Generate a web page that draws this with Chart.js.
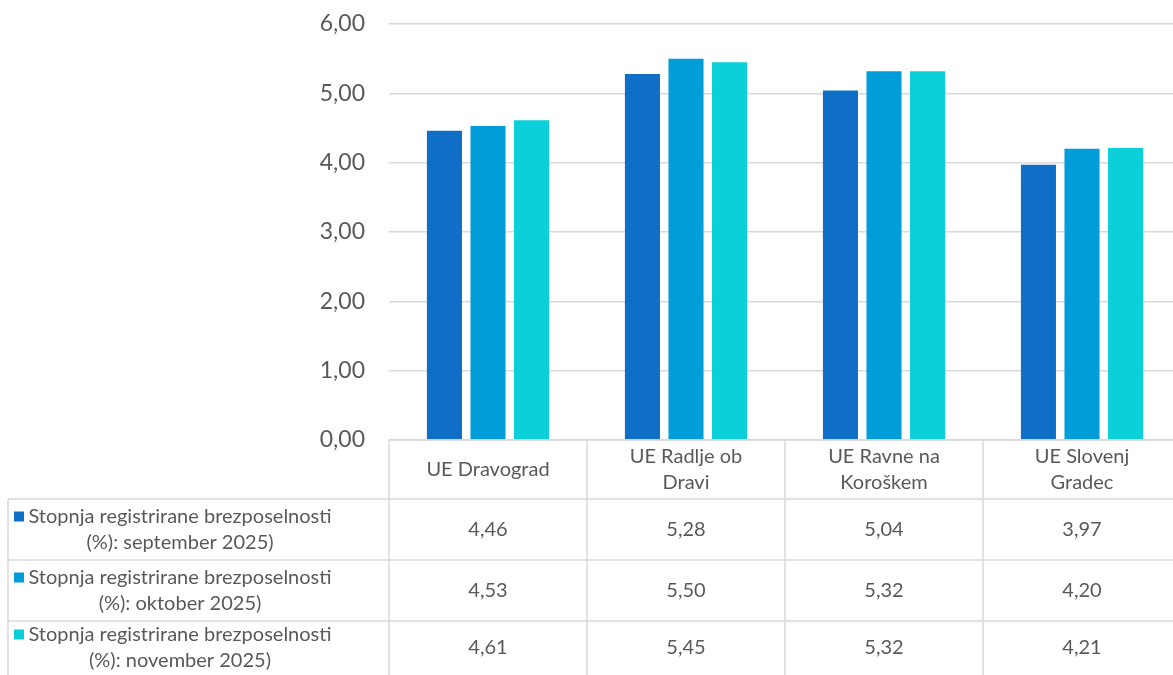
<!DOCTYPE html>
<html>
<head>
<meta charset="utf-8">
<script src="https://cdn.jsdelivr.net/npm/chart.js@4.4.0/dist/chart.umd.min.js"></script>
<style>
  html, body { margin: 0; padding: 0; background: #fff; overflow: hidden; }
  #wrap { width: 1173px; height: 675px; overflow: hidden; }
</style>
</head>
<body>
<div id="wrap"><canvas id="c" width="1182" height="675"></canvas></div>
<script>
// data
const categories = [['UE Dravograd'], ['UE Radlje ob', 'Dravi'], ['UE Ravne na', 'Koroškem'], ['UE Slovenj', 'Gradec']];
const september = [4.46, 5.28, 5.04, 3.97];
const oktober = [4.53, 5.50, 5.32, 4.20];
const november = [4.61, 5.45, 5.32, 4.21];
const seriesNames = [
  ['Stopnja registrirane brezposelnosti', '(%): september 2025)'],
  ['Stopnja registrirane brezposelnosti', '(%): oktober 2025)'],
  ['Stopnja registrirane brezposelnosti', '(%): november 2025)']
];
const colors = ['#0F6FC6', '#009DD9', '#0BD0D9'];

const FONT = 'Lato, "DejaVu Sans", sans-serif';
const TXT = '#595959';
const LINE = '#D9D9D9';

function fmt(v) { return v.toFixed(2).replace('.', ','); }

// draws the data table under the plot
const dataTable = {
  id: 'dataTable',
  afterDraw(chart) {
    const ctx = chart.ctx;
    const x = chart.scales.x;
    const area = chart.chartArea;
    const half = (area.right - area.left) / categories.length / 2;
    const top = area.bottom;
    const rows = [top, 499, 560, 621, 682];
    const left = 8;

    ctx.save();
    ctx.strokeStyle = LINE;
    ctx.lineWidth = 1.5;
    ctx.beginPath();
    ctx.moveTo(area.left, rows[0]); ctx.lineTo(area.right, rows[0]);
    for (let r = 1; r < rows.length; r++) {
      ctx.moveTo(left, rows[r]); ctx.lineTo(area.right, rows[r]);
    }
    ctx.moveTo(left, rows[1]); ctx.lineTo(left, rows[4]);
    for (let i = 0; i <= categories.length; i++) {
      const bx = (i < categories.length ? x.getPixelForValue(i) - half : x.getPixelForValue(i - 1) + half);
      ctx.moveTo(bx, rows[0]); ctx.lineTo(bx, rows[4]);
    }
    ctx.stroke();

    ctx.fillStyle = TXT;
    ctx.font = '20px ' + FONT;
    ctx.textAlign = 'center';
    ctx.textBaseline = 'middle';
    const lh = 26;
    // header
    categories.forEach((lines, i) => {
      const cx = x.getPixelForValue(i);
      const cy = (rows[0] + rows[1]) / 2;
      lines.forEach((l, k) => ctx.fillText(l, cx, cy + (k - (lines.length - 1) / 2) * lh));
    });
    // rows
    const series = [september, oktober, november];
    series.forEach((vals, r) => {
      const cy = (rows[r + 1] + rows[r + 2]) / 2 + (r === 2 ? -4 : 0);
      vals.forEach((v, i) => {
        ctx.fillStyle = TXT;
        ctx.fillText(fmt(v), x.getPixelForValue(i), cy);
      });
      const names = seriesNames[r];
      ctx.fillStyle = colors[r];
      ctx.fillRect(14, cy - 13 - 5, 10, 10);
      ctx.fillStyle = TXT;
      ctx.fillText(names[0], 180, cy - 13);
      ctx.fillText(names[1], 180, cy + 13);
    });
    ctx.restore();
  }
};

new Chart(document.getElementById('c'), {
  type: 'bar',
  data: {
    labels: categories,
    datasets: [
      { label: seriesNames[0].join(' '), data: september, backgroundColor: colors[0] },
      { label: seriesNames[1].join(' '), data: oktober, backgroundColor: colors[1] },
      { label: seriesNames[2].join(' '), data: november, backgroundColor: colors[2] }
    ]
  },
  options: {
    responsive: false,
    animation: false,
    layout: { padding: { top: 24, bottom: 235, left: 0, right: 1 } },
    categoryPercentage: 0.66,
    barPercentage: 0.805,
    plugins: { legend: { display: false }, tooltip: { enabled: false } },
    scales: {
      x: { display: false },
      y: {
        min: 0, max: 6,
        afterFit(s) { s.width = 389; s.paddingTop = 0; s.paddingBottom = 0; },
        border: { display: false },
        grid: { color: LINE, lineWidth: 1.5, drawTicks: false },
        ticks: {
          stepSize: 1, padding: 24, color: TXT,
          font: { family: FONT, size: 23 },
          callback: v => fmt(v)
        }
      }
    }
  },
  plugins: [dataTable]
});
</script>
</body>
</html>
